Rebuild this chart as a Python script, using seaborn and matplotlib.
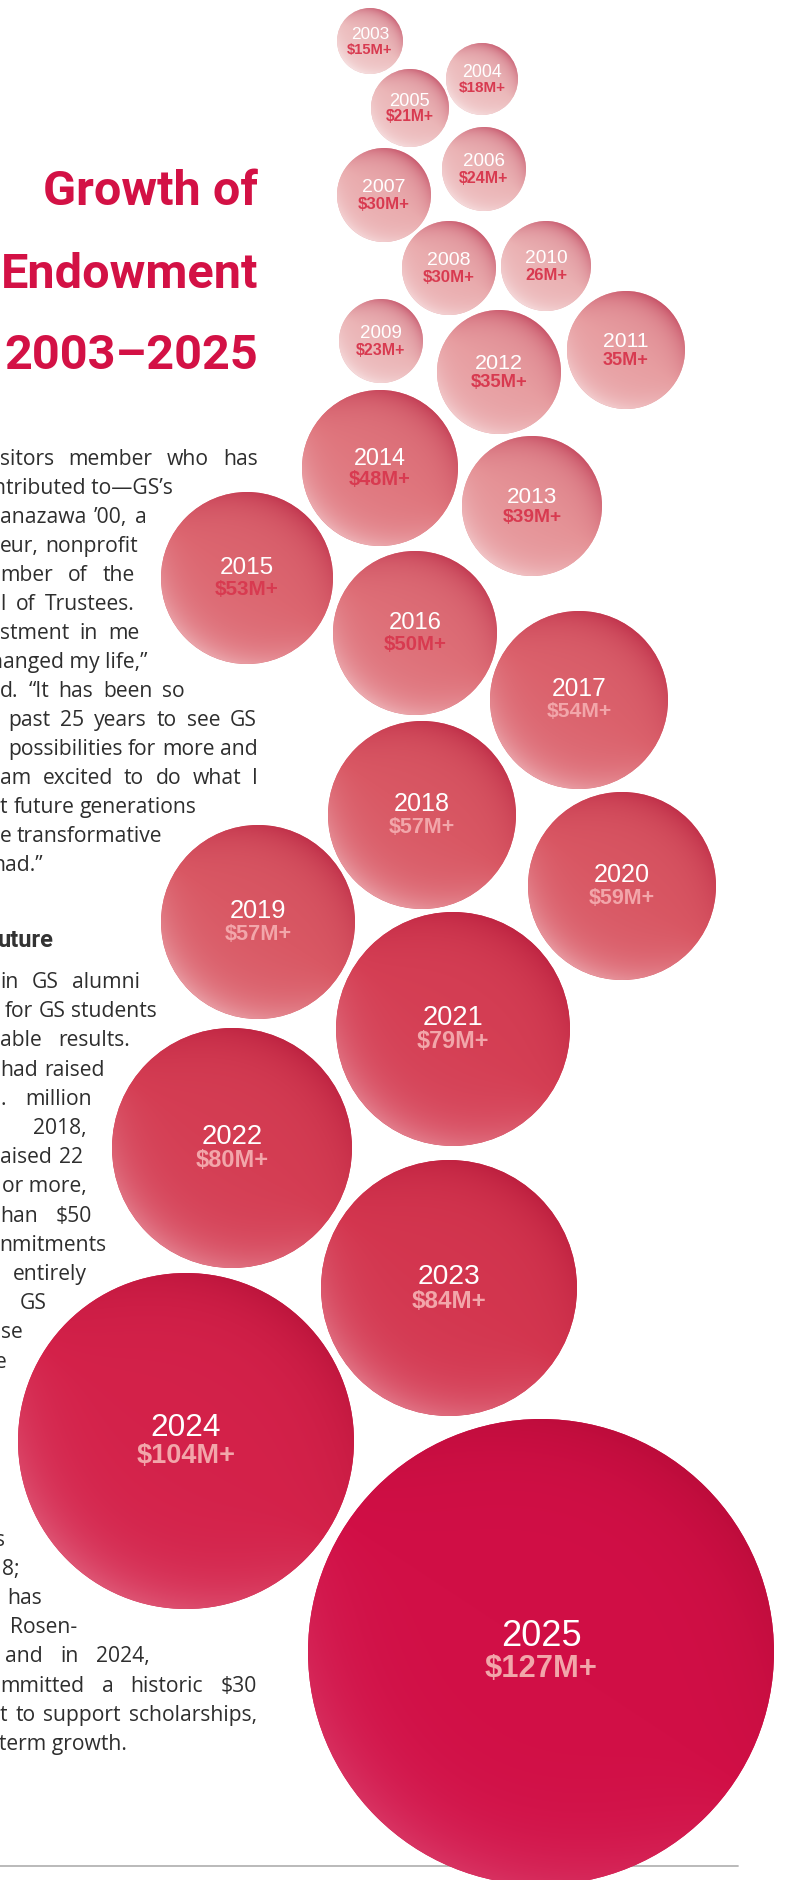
"""Growth of Endowment 2003-2025 — packed bubble figure, saved as out.png."""

import matplotlib

matplotlib.use("Agg")
import matplotlib.pyplot as plt
import numpy as np
import seaborn as sns
from matplotlib.colors import to_rgb
from matplotlib.patches import Circle

sns.set_theme(style="white")

# --- data -----------------------------------------------------------------
years = list(range(2003, 2026))
amounts = [15, 18, 21, 24, 30, 30, 23, 26, 35, 35, 39, 48, 53, 50, 54, 57, 57, 59, 79, 80, 84, 104, 127]
amount_labels = [
    "$15M+", "$18M+", "$21M+", "$24M+", "$30M+", "$30M+", "$23M+", "26M+", "35M+", "$35M+",
    "$39M+", "$48M+", "$53M+", "$50M+", "$54M+", "$57M+", "$57M+", "$59M+", "$79M+", "$80M+",
    "$84M+", "$104M+", "$127M+",
]

# --- layout (pixel space of the page, y down) -------------------------------
W, H = 785, 1881
centers = [
    (370, 42), (482, 80), (410, 109), (484, 170), (384, 196), (449, 269), (381, 342),
    (546, 267), (626, 351), (499, 373), (532, 507), (380, 469), (247, 579), (415, 634),
    (579, 701), (422, 816), (258, 923), (622, 887), (453, 1030), (232, 1149), (449, 1289),
    (186, 1442), (541, 1653),
]
radii = [33, 36, 39, 42, 47, 47, 42, 45, 59, 62, 70, 78, 86, 82, 89, 94, 97, 94, 117, 120, 128, 168, 233]

palette_stops = ["#ecbcbd", "#eaaeb0", "#e3868b", "#d95864", "#d74e5d",
                 "#d3344e", "#d4264b", "#d31a48", "#d10f46"]
DARK = np.array(to_rgb("#a80a30"))
RED = "#d31145"
INK = "#2e2e2e"

# body copy, cut by the page edge: (text, visible left, right edge)
para1 = [
    "sitors member who has", "ntributed to—GS’s", "anazawa ’00, a", "eur, nonprofit",
    "mber of the", "l of Trustees.", "stment in me", "hanged my life,”",
    "d. “It has been so", "past 25 years to see GS", "possibilities for more and",
    "am excited to do what I", "t future generations", "e transformative", "nad.”",
]
para1_left = [0, 0, 0, 0, 0, 0, 0, 0, 0, 8, 8, 0, 0, 0, 0]
para1_right = [258, 173, 147, 138, 135, 135, 140, 147, 185, 257, 258, 258, 197, 162, 43]

para2 = [
    "in GS alumni", "for GS students", "able results.", "had raised", ". million",
    "2018,", "aised 22", "or more,", "han $50", "nmitments", "entirely", "GS", "se", "e",
]
para2_left = [0, 5, 0, 0, 0, None, 0, 7, 0, None, None, None, None, None]
para2_right = [140, 157, 130, 105, 92, 87, 83, 87, 92, 106, 87, 47, 23, 7]

para3 = [
    "s", "8;", "has", "Rosen-", "and in 2024,", "mmitted a historic $30",
    "t to support scholarships,", "-term growth.",
]
para3_left = [None, None, None, None, 5, 0, 0, 0]
para3_right = [5, 20, 42, 77, 150, 257, 257, 127]

title_lines = ["Growth of", "Endowment", "2003–2025"]
title_mid = [188, 271, 352]

HEAD = dict(family=["Roboto", "DejaVu Sans"], fontweight="bold")
BODY = dict(family=["Open Sans", "DejaVu Sans"], fontsize=15.2, color=INK, zorder=1)
LABEL = dict(family=["Liberation Sans", "DejaVu Sans"])

fig = plt.figure(figsize=(W / 100, H / 100), dpi=100)
ax = fig.add_axes([0, 0, 1, 1])
ax.set_xlim(0, W)
ax.set_ylim(H, 0)
ax.axis("off")
renderer = fig.canvas.get_renderer()

cmap = sns.blend_palette(palette_stops, as_cmap=True)
vmin, vmax = min(amounts), max(amounts)


def draw_bubble(cx, cy, r, value, z):
    t = (value - vmin) / (vmax - vmin)
    base = np.array(cmap(t)[:3])
    light = base + (0.55 - 0.4 * t) * (1 - base)
    n = 300
    u = np.linspace(-1, 1, n)
    U, V = np.meshgrid(u, u)
    k = 0.55 * U - 0.835 * V  # towards upper right
    lin = 0.32 - 0.27 * t
    rim = lin + (1 - lin) * (U ** 2 + V ** 2) ** 2
    wd = np.clip(k, 0, 1) * rim
    wl = np.clip(-k, 0, 1) * rim
    img = (base[None, None, :]
           + 0.5 * wd[..., None] * (DARK - base)[None, None, :]
           + wl[..., None] * (light - base)[None, None, :])
    patch = Circle((cx, cy), r, facecolor=base, edgecolor="none", zorder=z)
    ax.add_patch(patch)
    im = ax.imshow(np.clip(img, 0, 1), extent=(cx - r, cx + r, cy + r, cy - r),
                   origin="upper", interpolation="bilinear", aspect="auto", zorder=z + 0.1)
    im.set_clip_path(patch)


def justified(line, left, right, y):
    """Set one line of body copy with its words spread between left and right."""
    words = line.split(" ")
    if left is None or len(words) == 1:
        ax.text(right, y, line, ha="right", va="baseline", **BODY)
        return
    arts = [ax.text(0, y, w, ha="left", va="baseline", **BODY) for w in words]
    widths = [a.get_window_extent(renderer).width for a in arts]
    gap = (right - left - sum(widths)) / (len(words) - 1)
    if gap < 3:
        for a in arts:
            a.remove()
        ax.text(right, y, line, ha="right", va="baseline", **BODY)
        return
    x = left
    for a, w in zip(arts, widths):
        a.set_x(x)
        x += w + gap


for yr, val, lab, (cx, cy), r in zip(years, amounts, amount_labels, centers, radii):
    draw_bubble(cx, cy, r, val, 3)
    fs = 11 + 1.26 * (np.sqrt(r) - np.sqrt(33))
    ax.text(cx, cy - 0.3 * fs, str(yr), ha="center", va="baseline", color="white",
            fontsize=1.13 * fs, zorder=5, **LABEL)
    amt_col = "#d83a50" if val < 54 else "#f2a6aa"
    ax.text(cx, cy + 1.05 * fs, lab, ha="center", va="baseline", color=amt_col,
            fontsize=0.97 * fs, fontweight="bold", zorder=5, **LABEL)

# --- body copy ------------------------------------------------------------
for i, (s, xl, xr) in enumerate(zip(para1, para1_left, para1_right)):
    justified(s, xl, xr, 465 + 29 * i)
for i, (s, xl, xr) in enumerate(zip(para2, para2_left, para2_right)):
    justified(s, xl, xr, 988 + 29.2 * i)
for i, (s, xl, xr) in enumerate(zip(para3, para3_left, para3_right)):
    justified(s, xl, xr, 1546 + 29.1 * i)

# --- title + subhead, fitted to the column ---------------------------------
title_texts = [ax.text(258, y, s, ha="right", va="baseline", fontsize=68, color=RED, zorder=2, **HEAD)
               for s, y in zip(title_lines, title_mid)]
widest = max(t.get_window_extent(renderer).width for t in title_texts)
tfs = 68 * min(1.0, 257 / widest)
cap = 0.711 * tfs * 100 / 72
for t, y in zip(title_texts, title_mid):
    t.set_fontsize(tfs)
    t.set_y(y + cap / 2)

sub = ax.text(54, 947, "uture", ha="right", va="baseline", fontsize=27, color="#333333", zorder=1, **HEAD)
sw = sub.get_window_extent(renderer).width
sub.set_fontsize(27 * min(1.0, 56 / sw))

ax.axhline(1867, xmin=0, xmax=738 / W, color="#b4b4b4", lw=1.3, zorder=0)

fig.savefig("out.png", dpi=100)
